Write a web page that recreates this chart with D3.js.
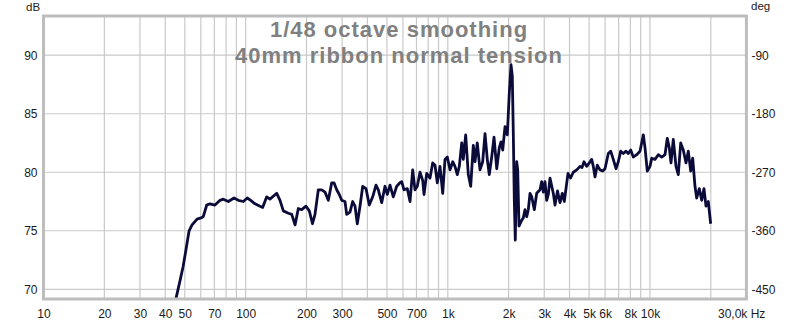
<!DOCTYPE html>
<html><head><meta charset="utf-8">
<script src="https://cdn.jsdelivr.net/npm/d3@7"></script>
<style>
html,body{margin:0;padding:0;background:#fff;}
svg{display:block;font-family:"Liberation Sans",Arial,sans-serif;}
</style></head>
<body>
<svg id="c" width="800" height="325"></svg>
<script>
// ---- data ----
const titleLines = ["1/48 octave smoothing", "40mm ribbon normal tension"];
const freqHz = [43.2,45.2,47.3,49.0,50.7,52.5,54.3,57.5,60.1,61.7,64.2,66.6,70.5,74.7,77.5,82.1,87.6,92.0,97.4,101.9,105.9,111.2,117.8,121.5,127.1,131.9,142.5,147.9,153.6,162.6,169.0,175.5,182.2,189.3,198.8,206.5,214.1,220.3,228.8,237.8,246.9,256.4,266.5,273.5,282.1,290.6,298.7,310.1,316.1,328.2,338.4,347.5,356.7,367.9,379.4,393.9,408.9,425.1,441.4,453.1,471.0,489.0,502.0,517.7,537.5,558.7,580.1,591.5,607.2,630.5,650.2,670.5,688.3,706.6,728.6,751.4,762.6,786.4,816.5,842.0,864.4,887.4,915.1,943.6,968.6,994.3,1026,1058,1085,1114,1140,1172,1193,1226,1263,1298,1337,1363,1399,1443,1488,1528,1568,1604,1649,1693,1746,1798,1833,1869,1919,1970,2015,2054,2085,2109,2133,2157,2192,2217,2250,2321,2363,2409,2457,2502,2551,2601,2679,2753,2858,2914,2968,3026,3085,3142,3203,3326,3391,3489,3590,3685,3770,3843,3932,4046,4177,4342,4508,4612,4718,4865,5012,5151,5245,5348,5490,5661,5838,5993,6223,6395,6587,6793,6973,7167,7382,7613,7815,8031,8273,8599,8929,9271,9452,9703,10005,10201,10591,10997,11432,11869,12184,12465,12709,13046,13453,13810,14193,14620,15077,15477,15906,16272,16703,17030,17541,18028,18506,18932,19435,19974];
const levelDb = [67.7,69.2,70.7,71.9,73.4,75.0,75.5,76.0,76.1,76.2,77.2,77.3,77.2,77.6,77.7,77.5,77.8,77.6,77.5,77.8,77.6,77.3,77.1,77.0,77.9,77.7,78.2,77.6,76.7,76.5,76.4,75.5,76.9,76.8,77.1,76.7,75.6,76.4,78.5,78.5,78.3,77.6,79.1,79.1,78.5,78.1,77.6,77.5,76.4,76.6,77.5,77.1,75.6,77.1,78.8,78.6,77.2,77.9,78.9,78.5,77.4,78.8,78.1,78.9,77.9,78.8,79.1,79.2,78.5,78.6,77.5,80.2,78.5,78.8,80.0,79.3,78.1,79.9,79.5,80.8,80.6,79.1,80.5,78.2,81.1,81.3,80.2,80.9,80.5,79.8,80.5,82.5,81.1,83.2,79.8,78.8,82.3,80.9,82.5,80.2,80.9,83.3,81.1,79.8,81.3,83.0,80.3,82.1,82.6,81.9,83.9,83.2,86.8,89.2,88.2,83.3,77.6,74.2,80.9,80.2,75.4,75.9,76.1,76.8,76.2,76.8,78.2,77.9,76.8,78.2,78.5,79.2,78.3,79.2,77.6,78.1,79.5,78.2,77.2,78.4,77.4,78.2,77.5,78.6,79.9,79.5,80.0,80.2,80.5,80.4,80.9,80.5,80.8,81.1,80.5,79.6,80.6,80.2,80.1,80.3,81.6,81.8,81.1,80.3,80.9,81.8,81.6,81.8,81.6,81.9,81.3,81.5,81.8,83.2,82.1,80.1,80.5,81.2,81.1,81.5,81.3,81.5,82.9,82.1,80.8,82.8,80.5,79.8,82.5,81.9,80.8,81.8,80.1,81.2,78.8,77.8,78.6,77.6,78.6,77.1,77.5,75.6];
const xTickVals = [10,20,30,40,50,70,100,200,300,500,700,1000,2000,3000,4000,5000,6000,8000,10000];
const xTickLabels = ["10","20","30","40","50","70","100","200","300","500","700","1k","2k","3k","4k","5k","6k","8k","10k"];
const xEndLabel = "30,0k Hz";
const xGridVals = [20,30,40,50,60,70,80,90,100,200,300,400,500,600,700,800,900,1000,2000,3000,4000,5000,6000,7000,8000,9000,10000,20000];
const yTickVals = [70,75,80,85,90];
const phaseTickVals = [-450,-360,-270,-180,-90];
const leftUnit = "dB", rightUnit = "deg";

// ---- layout ----
const L = 43.5, R = 746.4, T = 16, B = 299;
const svg = d3.select("#c");
const x = d3.scaleLog().domain([10, 30000]).range([L, R]);
const y = d3.scaleLinear().domain([69.17, 93.35]).range([B, T]);
const yPh = d3.scaleLinear().domain([-90 - (90 - 69.17) * 18, -90 - (90 - 93.35) * 18]).range([B, T]);

svg.append("defs").append("clipPath").attr("id", "clip")
  .append("rect").attr("x", L).attr("y", T).attr("width", R - L).attr("height", B - T);

const grid = svg.append("g").attr("stroke", "#c9c9c9").attr("stroke-width", 1.2);
grid.selectAll("line.v").data(xGridVals).join("line").attr("class", "v")
  .attr("x1", d => x(d)).attr("x2", d => x(d)).attr("y1", T).attr("y2", B);
grid.selectAll("line.h").data(yTickVals).join("line").attr("class", "h")
  .attr("x1", L).attr("x2", R).attr("y1", d => y(d)).attr("y2", d => y(d));

// title
svg.append("g").selectAll("text").data(titleLines).join("text")
  .attr("x", 399).attr("y", (d, i) => 37 + i * 26)
  .attr("text-anchor", "middle").attr("fill", "#808080")
  .attr("font-weight", "bold").attr("font-size", 22).attr("letter-spacing", 1)
  .text(d => d);

// curve
const pts = freqHz.map((f, i) => [f, levelDb[i]]);
svg.append("path").datum(pts).attr("clip-path", "url(#clip)")
  .attr("fill", "none").attr("stroke", "#0b0b3a").attr("stroke-width", 2.8)
  .attr("stroke-linejoin", "round")
  .attr("d", d3.line().x(d => x(d[0])).y(d => y(d[1])));

// frame
svg.append("rect").attr("x", L).attr("y", T).attr("width", R - L).attr("height", B - T)
  .attr("fill", "none").attr("stroke", "#bdbdbd").attr("stroke-width", 3);

// axes
const fs = 12;
const ax = svg.append("g").attr("transform", `translate(0,${B})`)
  .call(d3.axisBottom(x).tickValues(xTickVals).tickFormat((d, i) => xTickLabels[i]).tickSize(0).tickPadding(10));
const ay = svg.append("g").attr("transform", `translate(${L},0)`)
  .call(d3.axisLeft(y).tickValues(yTickVals).tickSize(0).tickPadding(6));
const ar = svg.append("g").attr("transform", `translate(${R},0)`)
  .call(d3.axisRight(yPh).tickValues(phaseTickVals).tickSize(0).tickPadding(5).tickFormat(d => String(d)));
[ax, ay, ar].forEach(g => {
  g.select(".domain").remove();
  g.selectAll("text").attr("font-size", fs).attr("fill", "#1a1a1a")
    .attr("font-family", '"Liberation Sans",Arial,sans-serif');
});
svg.append("text").attr("x", 718).attr("y", 317.5).attr("font-size", fs).attr("fill", "#1a1a1a").text(xEndLabel);
svg.append("text").attr("x", 26).attr("y", 11).attr("font-size", 11.5).attr("fill", "#1a1a1a").text(leftUnit);
svg.append("text").attr("x", 751).attr("y", 10).attr("font-size", 11.5).attr("fill", "#1a1a1a").text(rightUnit);
</script>
</body></html>
